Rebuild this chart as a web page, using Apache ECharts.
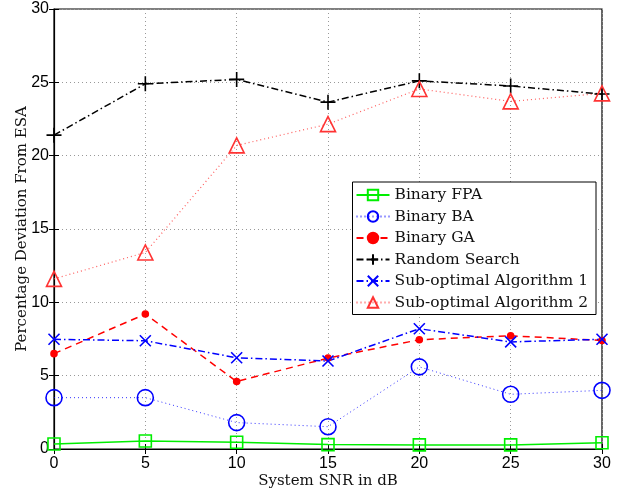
<!DOCTYPE html>
<html>
<head>
<meta charset="utf-8">
<script src="https://cdn.jsdelivr.net/npm/echarts@6/dist/echarts.min.js"></script>
<style>html,body{margin:0;padding:0;background:#fff}#c{width:624px;height:493px}</style>
</head>
<body>
<div id="c"></div>
<script>
var snr = [0, 5, 10, 15, 20, 25, 30];
var binaryFPA = [0.34, 0.55, 0.46, 0.30, 0.28, 0.28, 0.43];
var binaryBA = [3.5, 3.5, 1.8, 1.52, 5.6, 3.73, 4.0];
var binaryGA = [6.5, 9.2, 4.6, 6.2, 7.45, 7.72, 7.4];
var randomSearch = [21.4, 24.9, 25.2, 23.65, 25.1, 24.75, 24.2];
var subOpt1 = [7.48, 7.38, 6.22, 6.0, 8.2, 7.3, 7.48];
var subOpt2 = [11.6, 13.4, 20.7, 22.15, 24.55, 23.7, 24.25];
var yTicks = [0, 5, 10, 15, 20, 25, 30];

var serifFont = 'DejaVu Serif';
var sansFont = 'Liberation Sans';
var plusPath = 'path://M0,5L10,5M5,0L5,10';
var crossPath = 'path://M0,0L10,10M10,0L0,10';

function pairs(vals) { return snr.map(function (x, i) { return [x, vals[i]]; }); }

function mk(name, vals, color, lineType, lineWidth, symbol, size, filled, lineOpacity) {
  return {
    name: name, type: 'line', data: pairs(vals),
    symbol: symbol, symbolSize: size, showSymbol: true,
    lineStyle: { color: color, type: lineType, width: lineWidth, opacity: lineOpacity || 1 },
    itemStyle: { color: filled ? color : 'rgba(0,0,0,0)', borderColor: color, borderWidth: 1.6 },
    emphasis: { disabled: true },
    animation: false, z: 3
  };
}

var chart = echarts.init(document.getElementById('c'));
chart.setOption({
  backgroundColor: '#fff',
  animation: false,
  grid: { left: 54, right: 22, top: 9, bottom: 44, show: true, borderColor: '#000', borderWidth: 1.2,
    backgroundColor: 'transparent', containLabel: false, outerBoundsMode: 'none' },
  legend: {
    right: 28, top: 182, orient: 'vertical', itemGap: 5.5, itemWidth: 33, itemHeight: 13,
    backgroundColor: '#fff', borderColor: '#000', borderWidth: 1, padding: [5, 8, 4, 3],
    textStyle: { fontFamily: serifFont, fontSize: 15.5, color: '#111' },
    data: ['Binary FPA', 'Binary BA', 'Binary GA', 'Random Search', 'Sub-optimal Algorithm 1', 'Sub-optimal Algorithm 2']
  },
  xAxis: [{
    type: 'value', min: 0, max: 30, interval: 5,
    name: 'System SNR in dB', nameLocation: 'middle', nameGap: 25, nameMoveOverlap: false,
    nameTextStyle: { fontFamily: serifFont, fontSize: 15, color: '#111' },
    axisLine: { show: true, onZero: false, lineStyle: { color: '#000', width: 1.2 } },
    axisTick: { inside: true, length: 5, lineStyle: { color: '#000' } },
    axisLabel: { fontFamily: sansFont, fontSize: 16, color: '#000', margin: 7 },
    splitLine: { show: true, lineStyle: { color: '#999', type: [1, 3], width: 1 } }
  }, {
    type: 'value', min: 0, max: 30, interval: 5, position: 'top',
    axisLine: { show: false }, axisTick: { inside: true, length: 5, lineStyle: { color: '#000' } },
    axisLabel: { show: false }, splitLine: { show: false }
  }],
  yAxis: [{
    type: 'value', min: 0, max: 30, interval: 5,
    name: 'Percentage Deviation From ESA', nameLocation: 'middle', nameGap: 24, nameMoveOverlap: false,
    nameTextStyle: { fontFamily: serifFont, fontSize: 15, color: '#111' },
    axisLine: { show: true, onZero: false, lineStyle: { color: '#000', width: 1.2 } },
    axisTick: { inside: true, length: 5, lineStyle: { color: '#000' } },
    axisLabel: { fontFamily: sansFont, fontSize: 16, color: '#000', margin: 5,
      formatter: function (v) { return yTicks.indexOf(v) >= 0 ? String(v) : ''; } },
    splitLine: { show: true, lineStyle: { color: '#999', type: [1, 3], width: 1 } }
  }, {
    type: 'value', min: 0, max: 30, interval: 5, position: 'right',
    axisLine: { show: false }, axisTick: { inside: true, length: 5, lineStyle: { color: '#000' } },
    axisLabel: { show: false }, splitLine: { show: false }
  }],
  series: [
    mk('Binary FPA', binaryFPA, '#00ee00', 'solid', 1.5, 'rect', 12, false),
    mk('Binary BA', binaryBA, '#0000ff', [1, 3], 1, 'circle', 16, false, 0.8),
    mk('Binary GA', binaryGA, '#ff0000', [7, 5], 1.5, 'circle', 6, true),
    mk('Random Search', randomSearch, '#000000', [7, 3, 1.5, 3], 1.5, plusPath, 15, false),
    mk('Sub-optimal Algorithm 1', subOpt1, '#0000ff', [7, 3, 1.5, 3], 1.5, crossPath, 11, false),
    mk('Sub-optimal Algorithm 2', subOpt2, '#ff3333', [1, 3], 1.2, 'triangle', 15, false, 0.8)
  ]
});
</script>
</body>
</html>
